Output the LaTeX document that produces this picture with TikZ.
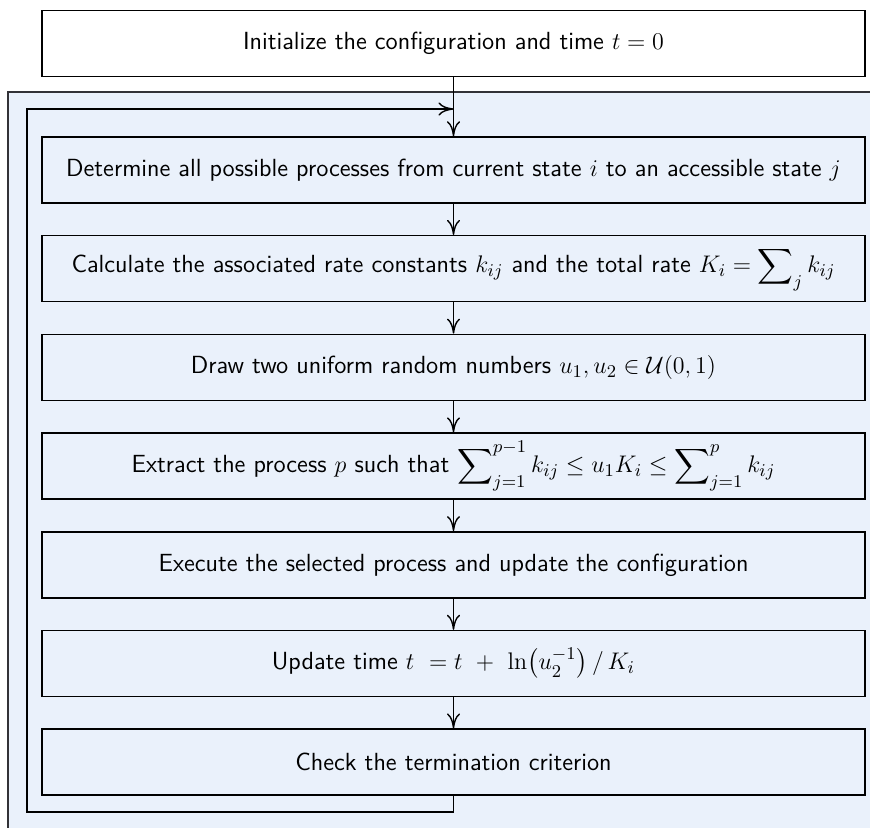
\documentclass[tikz,border=0pt]{standalone}
\usepackage{amsmath,amssymb}
\usetikzlibrary{positioning,arrows.meta}

\definecolor{bgblue}{RGB}{234,241,251}
\definecolor{framegray}{RGB}{50,50,55}

\tikzset{
  stepbox/.style={draw=black, line width=0.75pt, minimum width=411.5pt,
    minimum height=33pt, inner sep=0pt, align=center,
    font=\sffamily\fontsize{12.4}{14}\selectfont},
  flow/.style={line width=0.7pt, -{To[length=7.5pt,width=6.5pt]}}
}

\begin{document}
\begin{tikzpicture}[x=0.5pt, y=0.5pt, node distance=15.6pt]
  \useasboundingbox (0,0) rectangle (870,-827);

  % Draw the shaded loop frame
  \draw[framegray, fill=bgblue, line width=1.1pt] (8,-92) rectangle (890,-850);

  % Initial step
  \node[stepbox, fill=white] (init) at (453.5,-43.5) {Initialize the configuration and time $t = 0$};

  % Steps inside the loop
  \node[stepbox, below=29.5pt of init] (s1) {Determine all possible processes from current state $i$ to an accessible state $j$};
  \node[stepbox, below=of s1] (s2) {Calculate the associated rate constants $k_{ij}$ and the total rate $K_i = \displaystyle\sum\nolimits_j k_{ij}$};
  \node[stepbox, below=of s2] (s3) {Draw two uniform random numbers $u_1, u_2 \in \mathcal{U}(0,1)$};
  \node[stepbox, below=of s3] (s4) {Extract the process $p$ such that $\displaystyle\sum\nolimits_{j=1}^{p-1} k_{ij} \le u_1 K_i \le \sum\nolimits_{j=1}^{p} k_{ij}$};
  \node[stepbox, below=of s4] (s5) {Execute the selected process and update the configuration};
  \node[stepbox, below=of s5] (s6) {Update time $t \ = t \ + \ \ln\!\left(u_2^{-1}\right) / \, K_i$};
  \node[stepbox, below=of s6] (s7) {Check the termination criterion};

  % Arrows between steps
  \draw[flow] (init) -- (s1);
  \foreach \a/\b in {s1/s2, s2/s3, s3/s4, s4/s5, s5/s6, s6/s7}
    \draw[flow] (\a) -- (\b);

  % Loop back to the first step
  \coordinate (loopbl) at (27,-812);
  \coordinate (looptl) at (27,-109);
  \draw[flow] (s7.south) |- (loopbl) -- (looptl) -- (looptl -| s1.north);
\end{tikzpicture}
\end{document}
